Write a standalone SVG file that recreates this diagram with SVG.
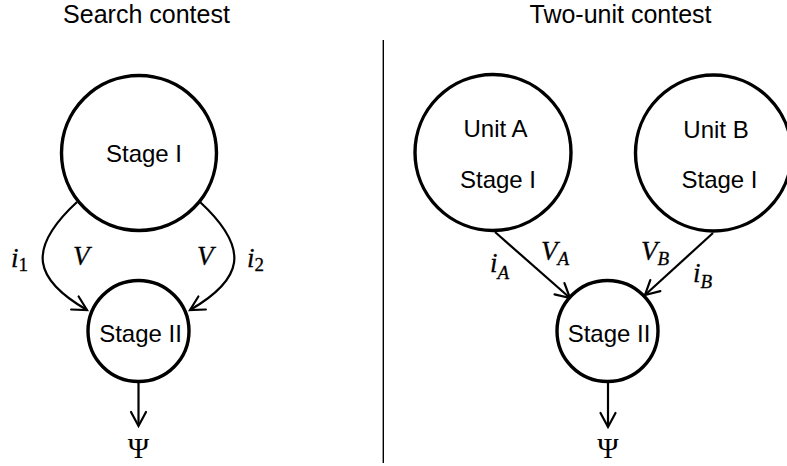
<svg xmlns="http://www.w3.org/2000/svg" width="787" height="466" viewBox="0 0 787 466">
<style>
.node{fill:#fff;stroke:#000;stroke-width:3.4}
.lbl{font-family:"Liberation Sans",Arial,sans-serif;font-size:24px;fill:#000;text-anchor:middle}
.title{font-family:"Liberation Sans",Arial,sans-serif;font-size:25px;fill:#000;text-anchor:middle}
.math{font-family:"Liberation Serif","Times New Roman",serif;font-size:27px;font-style:italic;fill:#000;stroke:#000;stroke-width:0.3}
.sub{font-size:19px}
.up{font-style:normal}
.psi{font-family:"Liberation Serif","Times New Roman",serif;font-size:29px;fill:#000;text-anchor:middle}
.edge{fill:none;stroke:#000;stroke-width:2.2;marker-end:url(#ah)}
</style>
<defs>
<marker id="ah" viewBox="-17 -10 20 20" refX="0" refY="0" markerWidth="20" markerHeight="20" markerUnits="userSpaceOnUse" orient="auto">
<path d="M-14,-7.5 L0,0 L-14,7.5" fill="none" stroke="#000" stroke-width="2.2" stroke-linecap="round" stroke-linejoin="miter"/>
</marker>
</defs>
<rect width="787" height="466" fill="#fff"/>
<text class="title" x="146.5" y="23">Search contest</text>
<text class="title" x="620.5" y="23">Two-unit contest</text>
<line x1="383.3" y1="40" x2="383.3" y2="463" stroke="#000" stroke-width="1.4"/>
<g id="connectors">
<path class="edge" d="M77,202 C25,250 35,280 87,310"/>
<path class="edge" d="M200,202 C252,250 242,280 190,310"/>
<path class="edge" d="M138.5,383 L138.5,426"/>
<path class="edge" d="M495,232 L570,298"/>
<path class="edge" d="M713,233 L645,295"/>
<path class="edge" d="M608,381 L608,427"/>
</g>
<g id="search-stage1">
<circle class="node" cx="139" cy="153" r="77.5"/>
<text class="lbl" x="144" y="162">Stage I</text>
</g>
<g id="search-stage2">
<circle class="node" cx="138.5" cy="331" r="50.5"/>
<text class="lbl" x="140.5" y="342">Stage II</text>
</g>
<g id="unitA-stage1">
<circle class="node" cx="493" cy="152.5" r="78"/>
<text class="lbl" x="495.5" y="137">Unit A</text>
<text class="lbl" x="498" y="188">Stage I</text>
</g>
<g id="unitB-stage1">
<circle class="node" cx="713.5" cy="153" r="78"/>
<text class="lbl" x="716" y="138">Unit B</text>
<text class="lbl" x="719.5" y="188">Stage I</text>
</g>
<g id="two-stage2">
<circle class="node" cx="607.5" cy="331" r="50.5"/>
<text class="lbl" x="609" y="342">Stage II</text>
</g>
<g id="labels">
<text class="math" x="11" y="267">i<tspan class="sub up" dy="4">1</tspan></text>
<text class="math" x="73" y="265">V</text>
<text class="math" x="197" y="265">V</text>
<text class="math" x="247" y="267">i<tspan class="sub up" dy="4">2</tspan></text>
<text class="math" x="490" y="272">i<tspan class="sub" dy="7">A</tspan></text>
<text class="math" x="541" y="260">V<tspan class="sub" dy="5">A</tspan></text>
<text class="math" x="641" y="260">V<tspan class="sub" dy="5">B</tspan></text>
<text class="math" x="693" y="282">i<tspan class="sub" dy="6">B</tspan></text>
<text class="psi" x="138.5" y="458">Ψ</text>
<text class="psi" x="608" y="458">Ψ</text>
</g>
</svg>
